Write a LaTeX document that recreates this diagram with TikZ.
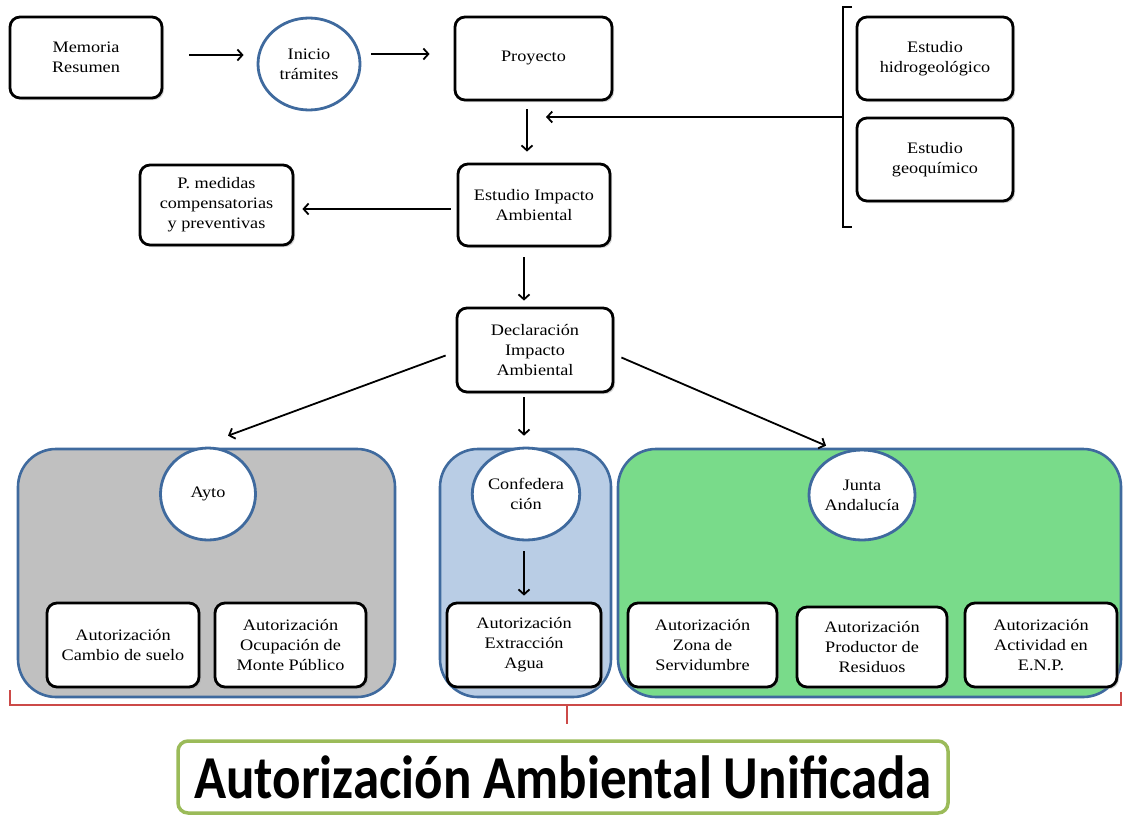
\documentclass[tikz,border=0pt]{standalone}
\usepackage{fontspec}
\usetikzlibrary{arrows.meta,shapes.geometric,shadows}
\newfontfamily\bx[FakeStretch=1.14]{Liberation Serif}
\newfontfamily\ttl{Carlito}
\definecolor{grpblue}{HTML}{3F6A9E}
\definecolor{grayfill}{HTML}{C0C0C0}
\definecolor{bluefill}{HTML}{B9CDE5}
\definecolor{greenfill}{HTML}{79DB8A}
\definecolor{bracered}{HTML}{CC4A48}
\definecolor{ttlgreen}{HTML}{9BBB59}
\tikzset{
  txt/.style={font=\bx\fontsize{16pt}{20pt}\selectfont, align=center},
  box/.style={txt, draw=black, line width=2.8pt, rounded corners=10pt, fill=white,
    inner sep=0pt, drop shadow={shadow xshift=2pt, shadow yshift=-2pt, fill=black!35, opacity=.5}},
  grp/.style={draw=grpblue, line width=2.6pt, rounded corners=38pt, inner sep=0pt},
  circ/.style={txt, ellipse, draw=grpblue, line width=2.8pt, fill=white, inner sep=0pt},
  arr/.style={-{Straight Barb[length=5pt,width=11pt]}, line width=1.8pt, black},
}
\begin{document}
\begin{tikzpicture}[x=1pt,y=-1pt]
\useasboundingbox (0,0) rectangle (1123,816);
% top row
\node[box, minimum width=152pt, minimum height=81pt] (mem) at (86,57.5) {Memoria\\Resumen};
\node[circ, minimum width=102pt, minimum height=92pt] (ini) at (309,64) {Inicio\\trámites};
\node[box, minimum width=157pt, minimum height=83pt] (proy) at (533.5,58.5) {\raisebox{4pt}{Proyecto}};
\node[box, minimum width=156pt, minimum height=83pt] (hid) at (935,58.5) {Estudio\\hidrogeológico};
\node[box, minimum width=156pt, minimum height=83pt] (geo) at (935,159.5) {Estudio\\geoquímico};
% bracket
\draw[line width=1.6pt] (852,7) -- (843,7) -- (843,227) -- (852,227);
\coordinate (br) at (843,117);
\coordinate (tgt) at (546,117);
% middle
\node[box, minimum width=152pt, minimum height=82pt] (eia) at (534,205) {Estudio Impacto\\Ambiental};
\node[box, minimum width=153pt, minimum height=80pt] (pmed) at (216.5,205) {P. medidas\\compensatorias\\y preventivas};
\node[box, minimum width=156pt, minimum height=84pt] (dia) at (535,350) {Declaración\\Impacto\\Ambiental};
% groups
\node[grp, fill=grayfill, minimum width=377pt, minimum height=248pt] (gayto) at (206.5,573) {};
\node[grp, fill=bluefill, minimum width=171pt, minimum height=248pt] (gconf) at (525.5,573) {};
\node[grp, fill=greenfill, minimum width=503pt, minimum height=248pt] (gjunta) at (869.5,573) {};
\node[circ, minimum width=95pt, minimum height=92pt] (ayto) at (208,494) {Ayto};
\node[circ, minimum width=98pt, minimum height=92pt] (conf) at (526,494) {Confedera\\ción};
\node[circ, minimum width=95pt, minimum height=90pt] (junta) at (862,495) {Junta\\Andalucía};
\node[box, minimum width=152pt, minimum height=84pt] (acs) at (123,645) {Autorización\\Cambio de suelo};
\node[box, minimum width=151pt, minimum height=84pt] (aomp) at (290.5,645) {Autorización\\Ocupación de\\Monte Público};
\node[box, minimum width=154pt, minimum height=84pt] (aea) at (524,645) {Autorización\\Extracción\\Agua};
\node[box, minimum width=149pt, minimum height=84pt] (azs) at (702.5,645) {Autorización\\Zona de\\Servidumbre};
\node[box, minimum width=150pt, minimum height=80pt] (apr) at (872,647) {Autorización\\Productor de\\Residuos};
\node[box, minimum width=152pt, minimum height=84pt] (aae) at (1041,645) {Autorización\\Actividad en\\E.N.P.};
% brace
\draw[bracered, line width=2pt] (10,690) -- (10,705) -- (1121,705) -- (1121,692);
\draw[bracered, line width=2pt] (567,705) -- (567,724);
% title
\node[draw=ttlgreen, line width=3.5pt, rounded corners=10pt, fill=white, minimum width=770pt, minimum height=72pt, inner sep=0pt,
  font=\ttl\bfseries\fontsize{53pt}{53pt}\selectfont] (aau) at (563,777) {\scalebox{1}[1.15]{Autorización Ambiental Unificada}};
% arrows
\draw[arr] ([xshift=26pt,yshift=2.5pt]mem.east) -- ([xshift=-13pt,yshift=9pt]ini.west);
\draw[arr] ([xshift=10pt,yshift=10pt]ini.east) -- ([xshift=-24pt,yshift=4.5pt]proy.west);
\draw[arr] ([xshift=-6.5pt,yshift=-8pt]proy.south) -- ([xshift=-7pt,yshift=11pt]eia.north);
\draw[arr] (br) -- (tgt);
\draw[arr] ([xshift=-6pt,yshift=-4pt]eia.west) -- ([xshift=8pt,yshift=-4pt]pmed.east);
\draw[arr] ([xshift=-10pt,yshift=-10pt]eia.south) -- ([xshift=-11pt,yshift=6pt]dia.north);
\draw[arr] ([xshift=-10pt,yshift=-5.5pt]dia.west) -- ([xshift=21.5pt,yshift=12pt]gayto.north);
\draw[arr] ([xshift=-11pt,yshift=-4pt]dia.south) -- ([xshift=-1.5pt,yshift=12pt]gconf.north);
\draw[arr] ([xshift=7pt,yshift=-7.5pt]dia.east) -- ([xshift=-43.5pt,yshift=2pt]gjunta.north);
\draw[arr] ([xshift=-2pt,yshift=-10pt]conf.south) -- ([yshift=6pt]aea.north);
\end{tikzpicture}
\end{document}
